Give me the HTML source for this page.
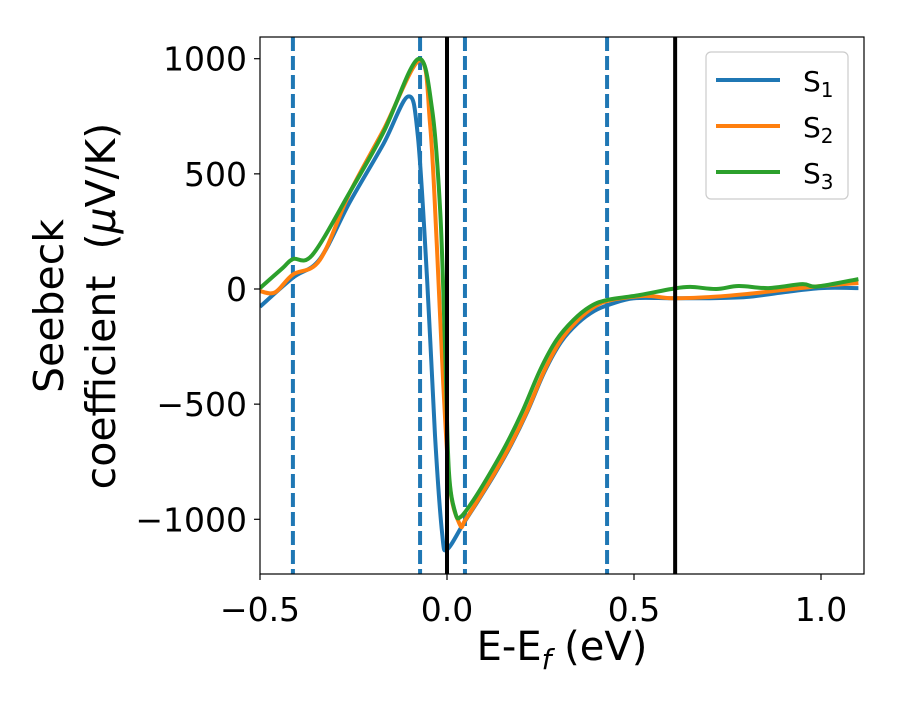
<!DOCTYPE html>
<html><head><meta charset="utf-8"><style>
body{margin:0;background:#fff;}
svg text{font-family:"DejaVu Sans","Liberation Sans",sans-serif;fill:#000;}
</style></head><body>
<svg id="chart" width="900" height="700" viewBox="0 0 900 700" xmlns="http://www.w3.org/2000/svg">
<defs><clipPath id="clip"><rect x="260" y="37" width="604" height="537"/></clipPath></defs>
<g id="plot" clip-path="url(#clip)"></g>
<rect x="260" y="37" width="604" height="537" fill="none" stroke="#000" stroke-width="1.2"/>
<g id="axes"></g>
<text x="562" y="660" font-size="40" text-anchor="middle">E-E<tspan font-style="italic" font-size="28" dy="9">f</tspan><tspan dy="-9"> (eV)</tspan></text>
<g transform="translate(63,306) rotate(-90)">
<text x="0" y="0" font-size="41" text-anchor="middle">Seebeck</text>
<text x="0" y="52" font-size="41" text-anchor="middle" xml:space="preserve">coefficient  (<tspan font-style="italic">μ</tspan>V/K)</text>
</g>
<g>
<rect x="706" y="52" width="142" height="147" rx="5" fill="#fff" stroke="#ccc" stroke-width="1.2"/>
<g><line x1="716" y1="80" x2="780" y2="80" stroke="#1f77b4" stroke-width="4"/><text x="803" y="91" font-size="28">S<tspan font-size="20" dy="6">1</tspan></text></g>
<g><line x1="716" y1="126" x2="780" y2="126" stroke="#ff7f0e" stroke-width="4"/><text x="803" y="137" font-size="28">S<tspan font-size="20" dy="6">2</tspan></text></g>
<g><line x1="716" y1="172" x2="780" y2="172" stroke="#2ca02c" stroke-width="4"/><text x="803" y="183" font-size="28">S<tspan font-size="20" dy="6">3</tspan></text></g>
</g>
</svg>
<script>
const xTicks=[-0.5,0.0,0.5,1.0];
const xTickLabels=["\u22120.5","0.0","0.5","1.0"];
const yTicks=[1000,500,0,-500,-1000];
const yTickLabels=["1000","500","0","\u2212500","\u22121000"];
const dashedLines=[-0.412,-0.072,0.048,0.428];
const solidLines=[0.0,0.61];
const s1x=[-0.5,-0.412,-0.34,-0.26,-0.17,-0.104,-0.078,-0.053,-0.032,-0.013,0.0,0.045,0.083,0.127,0.172,0.215,0.261,0.305,0.35,0.394,0.439,0.5,0.6,0.7,0.8,0.9,1.0,1.1];
const s1y=[-77,49,130,377,630,836,665,36,-638,-1061,-1131,-1016,-920,-805,-675,-532,-358,-230,-148,-95,-65,-40,-40,-40,-35,-14,4,4];
const s2x=[-0.5,-0.46,-0.412,-0.34,-0.26,-0.17,-0.072,-0.045,-0.027,-0.01,0.008,0.035,0.048,0.083,0.127,0.172,0.215,0.261,0.305,0.35,0.394,0.439,0.53,0.6,0.7,0.8,0.9,1.0,1.1];
const s2y=[-9,-15,63,126,418,690,993,710,184,-413,-863,-1025,-1005,-916,-800,-670,-527,-352,-221,-135,-77,-48,-30,-40,-35,-22,-4,13,26];
const s3x=[-0.5,-0.44,-0.412,-0.36,-0.26,-0.17,-0.078,-0.04,-0.018,-0.005,0.005,0.022,0.037,0.071,0.115,0.16,0.203,0.249,0.293,0.338,0.382,0.427,0.516,0.6,0.65,0.72,0.78,0.86,0.95,0.99,1.1];
const s3y=[4,90,130,148,420,680,998,782,333,-265,-791,-971,-989,-916,-800,-670,-527,-352,-221,-135,-77,-48,-26,0,9,0,13,4,21,11,43];
const NS="http://www.w3.org/2000/svg";
const X=v=>260+(v+0.5)*374;
const Y=v=>289-v*0.2303;
function mk(tag,attrs,parent){const e=document.createElementNS(NS,tag);for(const k in attrs)e.setAttribute(k,attrs[k]);parent.appendChild(e);return e;}
const plot=document.getElementById('plot'),axes=document.getElementById('axes');
function curve(xs,ys){const p=xs.map((x,i)=>[X(x),Y(ys[i])]);let d=`M${p[0][0]},${p[0][1]}`;
for(let i=0;i<p.length-1;i++){const p0=p[Math.max(0,i-1)],p1=p[i],p2=p[i+1],p3=p[Math.min(p.length-1,i+2)];
const c1=[p1[0]+(p2[0]-p0[0])/6,p1[1]+(p2[1]-p0[1])/6],c2=[p2[0]-(p3[0]-p1[0])/6,p2[1]-(p3[1]-p1[1])/6];
d+=`C${c1[0]},${c1[1]} ${c2[0]},${c2[1]} ${p2[0]},${p2[1]}`;}return d;}
dashedLines.forEach((v,i)=>{const l=mk('line',{x1:X(v),x2:X(v),y1:37,y2:574,stroke:'#1f77b4','stroke-width':4,'stroke-dasharray':'14 5'},plot);

});
[[s1x,s1y,'#1f77b4','series-s1'],[s2x,s2y,'#ff7f0e','series-s2'],[s3x,s3y,'#2ca02c','series-s3']].forEach(s=>{
const p=mk('path',{d:curve(s[0],s[1]),fill:'none',stroke:s[2],'stroke-width':4,'stroke-linejoin':'round'},plot);

});
solidLines.forEach((v,i)=>{const l=mk('line',{x1:X(v),x2:X(v),y1:37,y2:574,stroke:'#000','stroke-width':4},plot);

});
xTicks.forEach((v,i)=>{mk('line',{x1:X(v),x2:X(v),y1:574,y2:580,stroke:'#000','stroke-width':1.2},axes);
const t=mk('text',{x:X(v),y:621,'font-size':33,'text-anchor':'middle'},axes);t.textContent=xTickLabels[i];

});
yTicks.forEach((v,i)=>{mk('line',{x1:254,x2:260,y1:Y(v),y2:Y(v),stroke:'#000','stroke-width':1.2},axes);
const t=mk('text',{x:247,y:Y(v)+12,'font-size':33,'text-anchor':'end'},axes);t.textContent=yTickLabels[i];

});
</script>
</body></html>
